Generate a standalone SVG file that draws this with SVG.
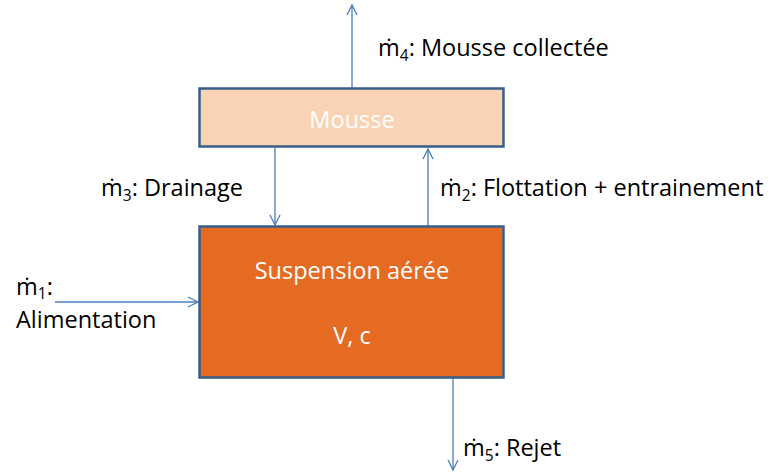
<svg xmlns="http://www.w3.org/2000/svg" width="770" height="473" viewBox="0 0 770 473">
<style>
text{font-family:"Open Sans","Liberation Sans",sans-serif;font-size:23.5px;fill:#000}
.w{fill:#fff}
.sub{font-size:15.5px}
.box{stroke:#385d8a;stroke-width:2.5}
.c{stroke:#4a7ebb;stroke-width:1.3;fill:none;marker-end:url(#a)}
</style>
<defs>
<marker id="a" viewBox="0 0 12 12" refX="11" refY="6" markerWidth="12" markerHeight="12" markerUnits="userSpaceOnUse" orient="auto">
<path d="M1,1 L11,6 L1,11" fill="none" stroke="#4a7ebb" stroke-width="1.3"/>
</marker>
</defs>
<rect width="770" height="473" fill="#fff"/>
<g id="connectors">
<line class="c" x1="352" y1="88" x2="352" y2="5"/>
<line class="c" x1="275" y1="148" x2="275" y2="225"/>
<line class="c" x1="428" y1="226" x2="428" y2="149"/>
<line class="c" x1="55" y1="302" x2="198" y2="302"/>
<line class="c" x1="453" y1="378" x2="453" y2="470"/>
</g>
<g id="mousse">
<rect class="box" x="199.5" y="88.5" width="304" height="58" fill="#fad3b4"/>
<text class="w" x="352" y="128" text-anchor="middle">Mousse</text>
</g>
<g id="suspension">
<rect class="box" x="199.5" y="226.5" width="304" height="151" fill="#e56b23"/>
<text class="w" x="352" y="279" text-anchor="middle">Suspension aérée</text>
<text class="w" x="352" y="344" text-anchor="middle">V, c</text>
</g>
<g id="labels">
<text x="378" y="56">ṁ<tspan class="sub" dy="5">4</tspan><tspan dy="-5">: Mousse collectée</tspan></text>
<text x="101" y="196">ṁ<tspan class="sub" dy="5">3</tspan><tspan dy="-5">: Drainage</tspan></text>
<text x="440" y="196">ṁ<tspan class="sub" dy="5">2</tspan><tspan dy="-5">: Flottation + entrainement</tspan></text>
<text x="16" y="295">ṁ<tspan class="sub" dy="4">1</tspan><tspan dy="-4">:</tspan></text>
<text x="16" y="328">Alimentation</text>
<text x="463" y="456">ṁ<tspan class="sub" dy="5">5</tspan><tspan dy="-5">: Rejet</tspan></text>
</g>
</svg>
